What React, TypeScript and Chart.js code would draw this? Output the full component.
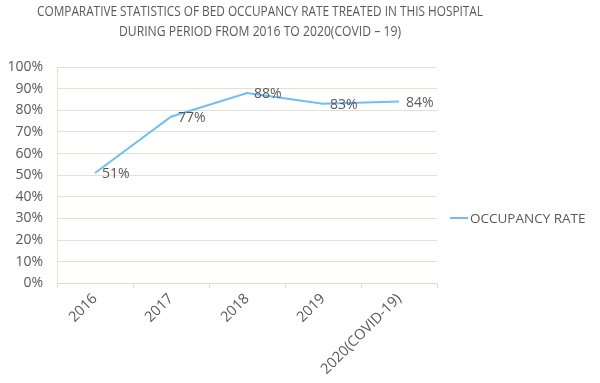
import React, { useEffect, useRef } from "react";
import { Chart, registerables } from "chart.js";

Chart.register(...registerables);

const titleLines = [
  "COMPARATIVE STATISTICS OF BED OCCUPANCY RATE TREATED IN THIS HOSPITAL",
  "DURING PERIOD FROM 2016 TO 2020(COVID \u2013 19)",
];
const categories = ["2016", "2017", "2018", "2019", "2020(COVID-19)"];
const seriesName = "OCCUPANCY RATE";
const occupancyRate = [51, 77, 88, 83, 84];
const dataLabels = ["51%", "77%", "88%", "83%", "84%"];

const TEXT = "#595959";
const LINE = "#6fbff2";
const FONT = "'Open Sans', 'DejaVu Sans', sans-serif";

const titlePlugin = {
  id: "customTitle",
  afterDraw(chart: any) {
    const ctx = chart.ctx;
    ctx.save();
    ctx.fillStyle = TEXT;
    ctx.font = `14.5px ${FONT}`;
    ctx.textAlign = "center";
    ctx.textBaseline = "middle";
    const widths = [446, 282];
    titleLines.forEach((t, i) => {
      ctx.fillText(t, 260, 12 + i * 20, widths[i]);
    });
    ctx.restore();
  },
};

const legendPlugin = {
  id: "customLegend",
  afterDraw(chart: any) {
    const ctx = chart.ctx;
    const ds = chart.data.datasets[0];
    const x = chart.chartArea.right + 13;
    const y = 218;
    ctx.save();
    ctx.strokeStyle = ds.borderColor;
    ctx.lineWidth = 2;
    ctx.beginPath();
    ctx.moveTo(x, y);
    ctx.lineTo(x + 18, y);
    ctx.stroke();
    ctx.fillStyle = TEXT;
    ctx.font = `13.5px ${FONT}`;
    ctx.textAlign = "left";
    ctx.textBaseline = "middle";
    ctx.fillText(ds.label, x + 20, y + 1);
    ctx.restore();
  },
};

const labelPlugin = {
  id: "pointLabels",
  afterDatasetsDraw(chart: any) {
    const ctx = chart.ctx;
    const meta = chart.getDatasetMeta(0);
    ctx.save();
    ctx.fillStyle = TEXT;
    ctx.font = `14px ${FONT}`;
    ctx.textAlign = "left";
    ctx.textBaseline = "middle";
    meta.data.forEach((pt: any, i: number) => {
      ctx.fillText(dataLabels[i], pt.x + 7, pt.y + 1);
    });
    ctx.restore();
  },
};

export default function App() {
  const ref = useRef<HTMLCanvasElement>(null);
  useEffect(() => {
    document.body.style.margin = "0";
    const chart = new Chart(ref.current!, {
      type: "line",
      data: {
        labels: categories,
        datasets: [
          {
            label: seriesName,
            data: occupancyRate,
            borderColor: LINE,
            backgroundColor: LINE,
            borderWidth: 2,
            pointRadius: 0,
            tension: 0,
            fill: false,
          },
        ],
      },
      options: {
        responsive: false,
        animation: false,
        devicePixelRatio: 1,
        layout: { padding: { top: 67, left: 8, right: 163, bottom: 3 } },
        plugins: {
          title: { display: false },
          tooltip: { enabled: false },
          legend: { display: false },
        },
        scales: {
          x: {
            offset: true,
            afterFit: (s: any) => {
              s.paddingLeft = 0;
              s.paddingRight = 0;
            },
            grid: {
              offset: true,
              drawOnChartArea: false,
              drawTicks: true,
              tickLength: 5,
              color: "#dedbd2",
            },
            border: { display: true, color: "#dedbd2" },
            ticks: {
              color: TEXT,
              font: { family: FONT, size: 14.5 },
              maxRotation: 45,
              minRotation: 45,
              padding: 2,
            },
          },
          y: {
            min: 0,
            max: 100,
            afterFit: (s: any) => {
              s.width = 49;
              s.paddingTop = 0;
              s.paddingBottom = 0;
            },
            grid: { color: "#e3e0d8", drawTicks: false },
            border: { display: true, color: "#ebe5c4" },
            ticks: {
              stepSize: 10,
              color: TEXT,
              padding: 14,
              font: { family: FONT, size: 14 },
              callback: (v: any) => `${v}%`,
            },
          },
        },
      },
      plugins: [titlePlugin, labelPlugin, legendPlugin],
    });
    return () => chart.destroy();
  }, []);
  return (
    <div style={{ width: 600, height: 383, background: "#fff" }}>
      <canvas ref={ref} width={600} height={383} />
    </div>
  );
}
